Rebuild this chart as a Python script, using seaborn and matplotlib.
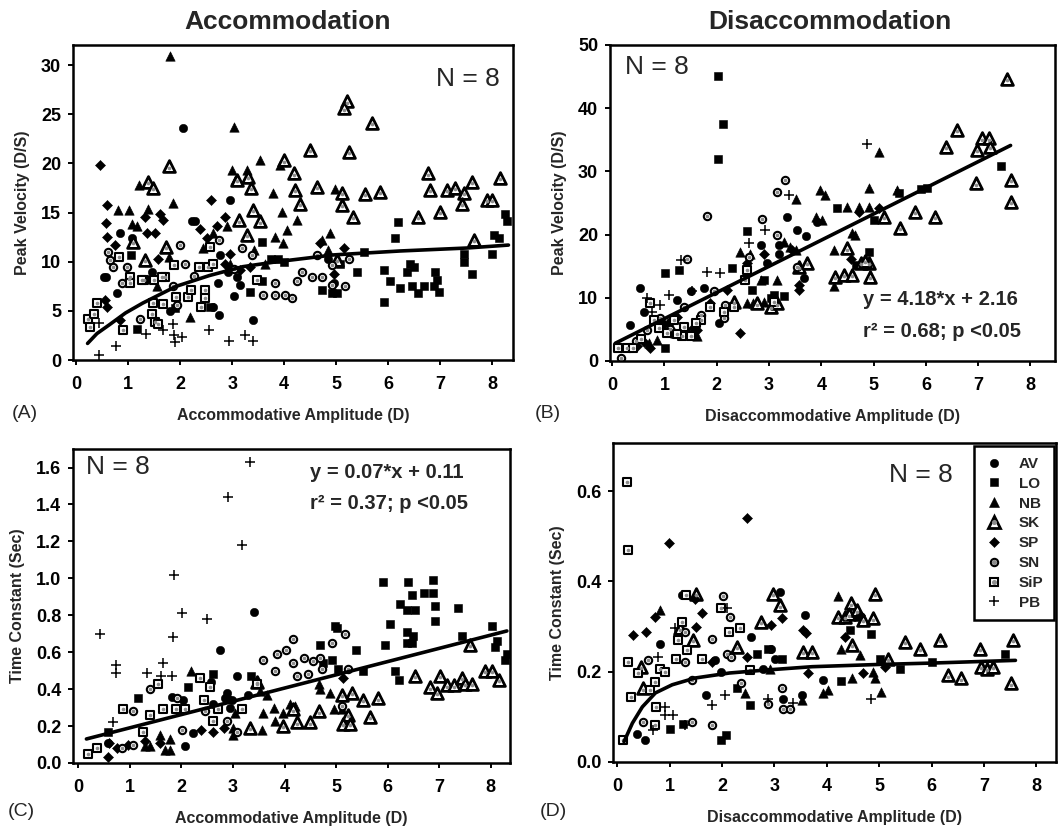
import matplotlib
matplotlib.use("Agg")
import matplotlib.pyplot as plt
from matplotlib.lines import Line2D
from matplotlib.legend_handler import HandlerTuple
import pandas as pd
import seaborn as sns

# %% data: (amplitude, value) pairs per subject

# Panel A: accommodation, peak velocity (D/S)
A_AV = [(2.06, 23.6), (2.96, 16.3), (2.22, 14.1), (0.85, 12.9), (0.54, 8.5), (1.46, 9.0), (2.77, 10.7),
        (2.72, 7.8), (3.09, 8.5), (3.03, 6.5), (2.74, 4.6), (3.40, 4.1), (1.81, 5.0), (2.64, 5.4),
        (3.15, 7.6), (1.07, 12.4), (0.78, 6.8), (4.85, 10.3), (4.95, 7.8), (0.58, 8.5), (2.28, 14.1),
        (2.92, 9.0)]
A_LO = [(3.57, 12.0), (3.57, 8.0), (3.35, 6.9), (3.89, 10.3), (4.72, 7.1), (4.92, 6.8), (5.01, 6.8),
        (5.08, 9.8), (5.40, 9.0), (5.53, 11.0), (5.91, 9.2), (6.04, 8.0), (5.91, 5.9), (6.13, 12.4),
        (6.19, 14.0), (6.23, 7.3), (6.36, 9.0), (6.42, 9.8), (6.49, 9.5), (6.45, 7.5), (6.58, 6.8),
        (6.68, 7.5), (6.87, 7.5), (6.90, 9.0), (6.94, 8.1), (6.97, 6.9), (7.45, 10.0), (7.45, 10.8),
        (7.61, 8.8), (7.99, 10.8), (8.03, 12.7), (8.12, 12.4), (8.25, 14.9), (8.28, 14.1), (1.17, 3.2),
        (1.90, 5.3), (2.58, 5.4), (1.06, 10.7), (3.75, 10.3), (4.00, 10.0)]
A_NB = [(1.81, 30.9), (3.03, 23.7), (3.54, 20.3), (3.00, 19.3), (3.28, 19.3), (3.06, 18.3), (3.91, 19.8),
        (3.79, 17.0), (3.95, 15.1), (4.06, 13.2), (4.24, 14.2), (3.83, 12.5), (3.97, 11.9), (4.98, 17.4),
        (4.88, 12.9), (4.85, 11.2), (4.72, 12.2), (1.87, 16.0), (1.39, 15.4), (0.81, 15.3), (1.01, 15.3),
        (1.20, 17.8), (1.17, 13.6), (1.78, 10.5), (2.43, 11.4), (2.19, 4.4), (2.64, 12.9), (2.90, 13.6),
        (3.41, 11.2), (3.63, 9.8), (1.55, 7.5), (2.96, 9.8), (1.08, 13.8)]
A_SK = [(1.39, 18.1), (1.47, 17.5), (1.78, 19.7), (1.72, 11.5), (1.10, 12.0), (1.33, 10.2), (3.09, 18.3),
        (3.14, 14.2), (3.31, 18.6), (3.36, 17.5), (3.28, 12.7), (3.40, 15.3), (3.54, 14.1), (3.99, 20.3),
        (4.18, 19.0), (4.21, 17.3), (4.31, 15.9), (4.50, 21.4), (4.63, 17.6), (5.21, 26.3), (5.14, 25.6),
        (5.24, 21.2), (5.11, 17.0), (5.11, 15.8), (5.33, 14.6), (5.69, 24.1), (5.56, 16.9), (5.85, 17.1),
        (6.58, 14.6), (6.77, 19.0), (6.81, 17.3), (7.00, 15.1), (7.13, 17.3), (7.29, 17.5), (7.45, 17.0),
        (7.42, 15.9), (7.61, 18.1), (7.64, 12.2), (7.90, 16.3), (7.99, 16.3), (8.15, 18.5), (5.01, 10.2)]
A_SP = [(0.46, 19.8), (0.59, 15.8), (0.58, 13.9), (0.59, 12.5), (0.75, 11.7), (1.33, 14.6), (1.36, 12.9),
        (1.52, 12.9), (1.62, 14.9), (1.67, 14.2), (1.58, 10.3), (2.38, 13.3), (2.60, 16.3), (2.51, 12.4),
        (2.71, 13.6), (2.87, 14.6), (2.96, 10.8), (3.15, 9.2), (3.35, 9.5), (4.69, 11.9), (5.14, 11.4),
        (4.95, 8.8), (0.56, 6.1), (0.59, 5.4), (0.85, 4.1), (2.87, 9.8)]
A_SN = [(0.62, 11.0), (0.65, 10.2), (0.71, 9.5), (0.97, 9.5), (1.01, 8.3), (0.88, 7.8), (2.00, 11.7),
        (2.10, 9.8), (2.26, 8.6), (1.87, 7.5), (2.74, 12.2), (3.03, 9.3), (3.19, 11.4), (3.38, 10.7),
        (3.60, 6.6), (3.83, 7.8), (3.83, 6.6), (4.02, 6.6), (4.15, 6.3), (4.24, 8.0), (4.34, 9.0),
        (4.53, 8.5), (4.63, 10.7), (4.72, 8.5), (4.92, 9.7), (4.92, 7.6), (5.17, 7.5), (5.24, 10.3),
        (1.23, 4.2), (1.94, 5.6)]
A_SiP = [(0.22, 4.2), (0.26, 3.4), (0.35, 4.7), (0.40, 5.8), (0.83, 10.5), (0.90, 3.1), (1.03, 8.5),
         (1.31, 8.1), (1.03, 7.8), (1.47, 5.8), (1.46, 4.7), (1.51, 3.9), (1.67, 5.7), (1.57, 3.7),
         (1.89, 9.7), (1.70, 8.5), (1.92, 6.4), (2.15, 6.4), (2.21, 7.1), (2.37, 9.5), (2.47, 7.1),
         (2.40, 5.4), (2.47, 6.3), (2.53, 9.5), (2.63, 9.8), (3.47, 8.1), (2.58, 11.5), (1.49, 8.1),
         (1.26, 8.1), (1.66, 8.5)]
A_PB = [(0.44, 3.8), (0.44, 0.5), (0.76, 1.4), (1.35, 2.7), (1.67, 3.1), (1.86, 3.7), (1.89, 2.6),
        (1.91, 1.8), (2.04, 2.4), (2.55, 3.1), (2.94, 1.9), (3.24, 2.6), (3.40, 1.9)]
A_FIT_X = [0.22, 0.40, 0.64, 0.95, 1.28, 1.92, 2.56, 3.20, 3.85, 4.95, 6.23, 7.51, 8.31]
A_FIT_Y = [1.7, 2.7, 3.6, 4.8, 5.8, 7.5, 8.6, 9.5, 10.0, 10.7, 11.1, 11.4, 11.7]

# Panel B: disaccommodation, peak velocity (D/S)
B_AV = [(1.75, 11.5), (0.54, 11.5), (3.35, 22.8), (3.54, 20.7), (3.19, 18.4), (2.84, 18.4), (3.19, 17.0),
        (3.70, 19.7), (3.67, 13.1), (2.04, 6.0), (1.24, 9.7), (1.50, 11.0), (0.35, 5.7), (0.61, 7.8),
        (3.92, 22.0), (2.96, 15.5), (0.90, 5.5), (1.10, 6.2), (1.40, 5.0)]
B_LO = [(2.03, 45.1), (2.12, 37.5), (2.03, 31.9), (7.43, 30.9), (6.02, 27.3), (5.90, 27.2), (5.48, 26.5),
        (5.00, 22.3), (4.91, 17.3), (4.30, 24.2), (4.67, 15.2), (2.57, 20.6), (2.29, 14.7), (1.27, 14.4),
        (1.02, 13.9), (2.68, 11.2), (2.90, 12.8), (3.03, 9.9), (3.28, 10.2), (1.02, 2.0), (3.10, 10.4)]
B_NB = [(5.10, 33.1), (3.51, 25.7), (3.98, 27.1), (4.08, 26.3), (3.89, 22.8), (4.02, 22.3), (4.91, 27.3),
        (5.45, 27.1), (4.49, 24.4), (4.72, 24.4), (4.91, 24.4), (4.59, 20.2), (4.65, 19.9), (4.24, 17.6),
        (4.24, 11.8), (3.28, 18.9), (3.41, 18.1), (3.51, 17.6), (2.45, 17.3), (2.64, 17.0), (2.84, 12.8),
        (3.15, 12.8), (2.58, 9.1), (1.47, 4.4), (1.63, 3.9), (0.86, 3.3), (2.70, 9.2), (2.90, 9.3),
        (0.70, 2.8), (1.20, 4.5), (1.55, 4.2)]
B_SK = [(7.55, 44.6), (6.60, 36.6), (6.38, 33.9), (6.98, 33.4), (7.07, 35.2), (7.20, 35.2), (7.23, 33.9),
        (6.95, 28.1), (7.62, 28.6), (7.62, 25.2), (5.80, 23.6), (6.18, 22.8), (5.51, 21.0), (5.19, 22.8),
        (4.49, 17.8), (4.27, 13.3), (4.43, 13.6), (4.59, 13.6), (4.75, 15.5), (4.91, 15.5), (4.94, 13.3),
        (3.73, 15.5), (3.57, 14.9), (2.77, 9.1), (3.03, 8.6), (3.15, 9.1), (2.33, 9.4), (4.83, 15.8)]
B_SP = [(2.45, 4.4), (0.48, 2.3), (0.73, 2.0), (3.57, 12.0), (3.57, 11.2), (3.44, 17.6), (4.56, 16.2),
        (4.72, 23.6), (5.10, 24.2), (2.90, 17.0), (2.58, 15.5), (2.20, 11.2), (1.63, 4.9), (1.24, 7.0),
        (1.88, 9.1), (1.00, 5.8), (1.30, 4.5), (1.55, 5.2), (0.60, 3.0)]
B_SN = [(3.31, 28.6), (3.15, 26.8), (1.82, 22.9), (2.87, 22.4), (3.15, 19.9), (1.43, 16.2), (2.61, 16.5),
        (1.94, 11.0), (2.14, 6.8), (0.67, 4.9), (0.92, 6.8), (2.16, 8.9), (1.37, 8.6), (0.16, 0.4),
        (3.54, 14.9), (0.45, 3.2), (1.10, 5.0), (1.70, 7.2)]
B_SiP = [(0.11, 2.1), (0.29, 2.1), (0.40, 2.1), (0.73, 9.1), (0.80, 6.5), (1.18, 6.5), (1.34, 3.9),
         (1.05, 4.4), (1.37, 5.4), (2.14, 7.8), (2.33, 8.6), (2.55, 12.8), (3.09, 9.4), (2.58, 14.4),
         (1.69, 6.5), (1.88, 8.6), (0.90, 5.2), (1.25, 4.2), (1.50, 4.0), (1.60, 6.0), (0.55, 3.5)]
B_PB = [(4.88, 34.3), (3.38, 26.3), (2.93, 20.7), (1.31, 16.0), (1.82, 14.1), (2.07, 13.9), (1.53, 11.0),
        (1.08, 10.4), (0.67, 9.9), (0.92, 8.9), (0.76, 7.8), (2.61, 18.6)]
B_FIT_X = [0.06, 7.62]
B_FIT_Y = [2.8, 34.1]

# Panel C: accommodation, time constant (s)
C_AV = [(3.41, 0.82), (2.74, 0.61), (3.07, 0.47), (1.81, 0.36), (2.04, 0.34), (2.57, 0.44), (2.22, 0.16),
        (2.07, 0.09), (2.88, 0.38), (2.62, 0.32), (0.58, 0.11), (2.98, 0.34), (3.30, 0.37), (2.85, 0.35),
        (2.95, 0.30)]
C_LO = [(5.91, 0.98), (6.40, 0.98), (6.88, 0.99), (6.24, 0.86), (6.47, 0.91), (6.70, 0.92), (6.87, 0.92),
        (6.38, 0.83), (6.53, 0.83), (6.92, 0.85), (7.37, 0.84), (6.92, 0.77), (6.05, 0.75), (5.95, 0.64),
        (6.37, 0.71), (6.50, 0.69), (6.38, 0.65), (6.48, 0.65), (6.15, 0.50), (6.21, 0.45), (7.44, 0.69),
        (8.03, 0.74), (8.08, 0.63), (8.12, 0.66), (8.31, 0.59), (8.28, 0.56), (4.98, 0.74), (5.01, 0.73),
        (4.69, 0.64), (4.75, 0.54), (5.39, 0.61), (4.92, 0.56), (5.04, 0.51), (5.52, 0.50), (3.36, 0.47),
        (2.62, 0.48), (2.12, 0.41), (1.16, 0.35), (0.58, 0.17)]
C_NB = [(3.53, 0.39), (3.66, 0.37), (3.79, 0.30), (3.82, 0.23), (3.98, 0.27), (4.11, 0.32), (4.20, 0.31),
        (3.59, 0.27), (3.56, 0.18), (3.01, 0.15), (3.01, 0.19), (4.69, 0.40), (4.88, 0.38), (4.95, 0.29),
        (4.66, 0.43), (1.78, 0.07), (1.78, 0.13), (1.39, 0.09), (1.58, 0.15), (3.04, 0.27), (5.11, 0.29),
        (2.18, 0.50), (1.29, 0.09), (1.68, 0.07)]
C_SK = [(6.53, 0.47), (6.82, 0.41), (6.95, 0.38), (7.02, 0.47), (7.15, 0.42), (7.28, 0.42), (7.44, 0.46),
        (7.50, 0.43), (7.63, 0.43), (7.60, 0.64), (7.89, 0.50), (8.02, 0.50), (8.15, 0.45), (5.53, 0.34),
        (5.82, 0.35), (5.66, 0.25), (5.30, 0.38), (5.11, 0.37), (5.24, 0.26), (5.14, 0.21), (5.27, 0.21),
        (4.50, 0.22), (4.66, 0.28), (4.24, 0.22), (4.17, 0.29), (3.98, 0.20), (3.33, 0.19), (3.46, 0.44)]
C_SP = [(2.39, 0.18), (2.62, 0.17), (2.83, 0.19), (2.88, 0.36), (5.14, 0.46), (0.59, 0.11), (0.57, 0.03),
        (0.97, 0.10), (1.59, 0.11), (1.30, 0.12), (0.75, 0.08)]
C_SN = [(4.17, 0.67), (4.03, 0.61), (3.85, 0.59), (3.59, 0.56), (3.82, 0.50), (4.37, 0.57), (5.17, 0.70),
        (4.92, 0.65), (4.56, 0.55), (4.69, 0.57), (4.17, 0.54), (4.24, 0.47), (4.46, 0.48), (4.72, 0.51),
        (5.24, 0.51), (5.11, 0.31), (1.39, 0.40), (2.01, 0.18), (1.07, 0.28), (1.91, 0.35), (2.46, 0.28),
        (3.07, 0.17), (2.88, 0.23), (1.07, 0.10), (0.85, 0.08)]
C_SiP = [(1.55, 0.43), (0.87, 0.29), (1.65, 0.29), (1.25, 0.17), (1.39, 0.26), (1.90, 0.29), (2.07, 0.29),
         (2.36, 0.46), (2.56, 0.41), (3.46, 0.43), (0.19, 0.05), (0.36, 0.08), (2.43, 0.34), (2.72, 0.29),
         (2.62, 0.23), (3.17, 0.29)]
C_PB = [(3.34, 1.63), (2.90, 1.44), (3.18, 1.18), (1.86, 1.02), (2.01, 0.81), (2.50, 0.78), (0.42, 0.70),
        (1.84, 0.68), (0.74, 0.53), (0.74, 0.49), (1.33, 0.49), (1.64, 0.54), (1.60, 0.47), (1.82, 0.47),
        (0.68, 0.22)]
C_FIT_X = [0.16, 8.31]
C_FIT_Y = [0.13, 0.715]

# Panel D: disaccommodation, time constant (s)
D_AV = [(3.10, 0.377), (3.58, 0.325), (1.23, 0.370), (0.81, 0.262), (0.53, 0.048), (0.37, 0.063),
        (1.70, 0.148), (1.99, 0.200), (2.56, 0.277), (2.94, 0.251), (3.17, 0.140), (3.52, 0.148),
        (3.93, 0.181), (2.79, 0.207), (1.86, 0.225), (3.01, 0.229)]
D_LO = [(7.40, 0.240), (6.00, 0.222), (5.39, 0.207), (5.01, 0.227), (4.85, 0.283), (4.44, 0.292),
        (4.28, 0.180), (2.53, 0.126), (1.99, 0.048), (2.08, 0.059), (1.00, 0.074), (1.26, 0.085),
        (2.66, 0.240), (2.88, 0.251), (2.28, 0.163), (3.14, 0.229), (4.60, 0.322)]
D_NB = [(0.81, 0.336), (4.22, 0.367), (4.28, 0.251), (4.49, 0.185), (4.88, 0.200), (4.92, 0.185),
        (5.04, 0.155), (3.93, 0.152), (4.03, 0.159), (3.52, 0.137), (4.63, 0.237), (2.44, 0.152),
        (2.91, 0.205)]
D_SK = [(4.92, 0.373), (4.47, 0.351), (4.22, 0.322), (4.35, 0.322), (4.43, 0.327), (4.57, 0.336),
        (4.69, 0.314), (4.88, 0.318), (4.49, 0.259), (1.51, 0.373), (2.28, 0.255), (2.98, 0.373),
        (3.10, 0.347), (2.75, 0.310), (3.55, 0.244), (3.71, 0.244), (5.17, 0.229), (5.49, 0.266),
        (5.78, 0.251), (6.16, 0.270), (6.31, 0.192), (6.57, 0.185), (6.92, 0.251), (6.95, 0.211),
        (7.05, 0.207), (7.17, 0.211), (7.55, 0.270), (7.52, 0.174), (0.46, 0.211), (0.50, 0.163),
        (1.45, 0.270), (1.20, 0.296)]
D_SP = [(0.99, 0.486), (2.47, 0.540), (0.31, 0.281), (0.55, 0.288), (0.72, 0.321), (1.61, 0.331),
        (1.51, 0.299), (1.48, 0.362), (4.34, 0.277), (4.63, 0.325), (2.94, 0.303), (3.14, 0.318),
        (2.47, 0.233), (3.55, 0.292), (3.61, 0.285), (4.69, 0.196), (5.11, 0.211), (3.64, 0.196),
        (1.80, 0.222)]
D_SN = [(2.01, 0.367), (2.15, 0.321), (1.80, 0.273), (2.09, 0.240), (2.18, 0.233), (1.42, 0.089),
        (1.80, 0.081), (1.29, 0.222), (1.42, 0.181), (2.88, 0.129), (3.17, 0.118), (3.30, 0.118),
        (3.14, 0.163), (0.59, 0.225), (0.50, 0.089), (1.29, 0.288), (2.37, 0.174)]
D_SiP = [(0.19, 0.621), (0.21, 0.469), (0.21, 0.222), (0.40, 0.196), (0.27, 0.144), (0.62, 0.159),
         (0.72, 0.177), (0.81, 0.207), (0.91, 0.200), (1.32, 0.370), (1.23, 0.310), (1.16, 0.270),
         (1.13, 0.229), (1.34, 0.248), (1.61, 0.229), (1.99, 0.340), (2.13, 0.288), (2.34, 0.296),
         (2.53, 0.203), (0.75, 0.122), (0.72, 0.081), (0.11, 0.048)]
D_PB = [(2.09, 0.340), (1.10, 0.296), (0.78, 0.233), (0.91, 0.122), (0.91, 0.103), (1.07, 0.103),
        (1.29, 0.081), (0.69, 0.070), (1.80, 0.126), (2.05, 0.148), (2.88, 0.140), (3.36, 0.131),
        (4.85, 0.140)]
D_FIT_X = [0.13, 0.29, 0.48, 0.73, 1.05, 1.49, 2.14, 2.77, 3.72, 5.0, 6.0, 7.6]
D_FIT_Y = [0.045, 0.086, 0.122, 0.153, 0.171, 0.186, 0.197, 0.203, 0.211, 0.216, 0.219, 0.225]

SUBJECTS = ["AV", "LO", "NB", "SK", "SP", "SN", "SiP", "PB"]

# %% styling
sns.set_theme(style="ticks")
plt.rcParams["font.family"] = ["Liberation Sans", "DejaVu Sans"]

MARKERS = {
    "AV": dict(marker="o", s=36, color="black", edgecolor="black", linewidth=0.4),
    "LO": dict(marker="s", s=32, color="black", edgecolor="black", linewidth=0.4),
    "NB": dict(marker="^", s=46, color="black", edgecolor="black", linewidth=0.4),
    "SK": dict(marker="^", s=72, color="white", edgecolor="black", linewidth=2.0),
    "SP": dict(marker="D", s=26, color="black", edgecolor="black", linewidth=0.4),
    "SN": dict(marker="o", s=28, color="white", edgecolor="black", linewidth=1.5),
    "SiP": dict(marker="s", s=30, color="white", edgecolor="black", linewidth=1.5),
    "PB": dict(marker="+", s=42, color="black", linewidth=1.1),
}
DOTTED = ["SK", "SN", "SiP"]
DOT_COLOR = "#8c8c8c"


def to_frame(groups):
    rows = []
    for subj, pts in zip(SUBJECTS, groups):
        for x, y in pts:
            rows.append({"subject": subj, "x": x, "y": y})
    return pd.DataFrame(rows)


def draw(ax, df, fit_x, fit_y, xlim, ylim, yticks, yfmt):
    for subj in SUBJECTS:
        sub = df[df["subject"] == subj]
        sns.scatterplot(data=sub, x="x", y="y", ax=ax, legend=False, zorder=2, **MARKERS[subj])
        if subj in DOTTED:
            # small grey centre dot inside the open markers
            cy = sub.copy()
            if subj == "SK":
                cy["y"] = cy["y"] - (ylim[1] - ylim[0]) * 0.004
            sns.scatterplot(data=cy, x="x", y="y", ax=ax, legend=False, marker="o", s=7,
                            color=DOT_COLOR, edgecolor=DOT_COLOR, linewidth=0, zorder=2.1)
    sns.lineplot(x=fit_x, y=fit_y, ax=ax, color="black", linewidth=2.6, sort=False,
                 estimator=None, zorder=3)
    ax.set_xlim(*xlim)
    ax.set_ylim(*ylim)
    ax.set_xticks(range(0, 9))
    ax.set_yticks(yticks)
    ax.set_yticklabels([yfmt.format(v) for v in yticks])
    for sp in ax.spines.values():
        sp.set_visible(True)
        sp.set_linewidth(1.8)
        sp.set_color("black")
    ax.tick_params(direction="out", length=3.5, width=1.4, labelsize=13, colors="black")
    ax.tick_params(axis="x", pad=8)
    ax.tick_params(axis="y", pad=5)
    for lab in ax.get_xticklabels() + ax.get_yticklabels():
        lab.set_fontweight("bold")
    ax.set_facecolor("white")


fig = plt.figure(figsize=(10.58, 8.26), dpi=100)
axA = fig.add_axes([0.069, 0.564, 0.416, 0.381])
axB = fig.add_axes([0.5766, 0.563, 0.4206, 0.3826])
axC = fig.add_axes([0.069, 0.0763, 0.413, 0.380])
axD = fig.add_axes([0.5794, 0.0775, 0.419, 0.386])

dfA = to_frame([A_AV, A_LO, A_NB, A_SK, A_SP, A_SN, A_SiP, A_PB])
dfB = to_frame([B_AV, B_LO, B_NB, B_SK, B_SP, B_SN, B_SiP, B_PB])
dfC = to_frame([C_AV, C_LO, C_NB, C_SK, C_SP, C_SN, C_SiP, C_PB])
dfD = to_frame([D_AV, D_LO, D_NB, D_SK, D_SP, D_SN, D_SiP, D_PB])

draw(axA, dfA, A_FIT_X, A_FIT_Y, (-0.06, 8.40), (0, 32), [0, 5, 10, 15, 20, 25, 30], "{:g}")
draw(axB, dfB, B_FIT_X, B_FIT_Y, (-0.04, 8.47), (0, 50), [0, 10, 20, 30, 40, 50], "{:g}")
draw(axC, dfC, C_FIT_X, C_FIT_Y, (-0.10, 8.37), (0, 1.70),
     [0.0, 0.2, 0.4, 0.6, 0.8, 1.0, 1.2, 1.4, 1.6], "{:.1f}")
draw(axD, dfD, D_FIT_X, D_FIT_Y, (-0.08, 8.38), (0, 0.706), [0.0, 0.2, 0.4, 0.6], "{:.1f}")

lab_kw = dict(fontsize=11.5, fontweight="bold")
axA.set_xlabel("Accommodative Amplitude (D)", labelpad=11, **lab_kw)
axB.set_xlabel("Disaccommodative Amplitude (D)", labelpad=11, **lab_kw)
axC.set_xlabel("Accommodative Amplitude (D)", labelpad=11, **lab_kw)
axD.set_xlabel("Disaccommodative Amplitude (D)", labelpad=11, **lab_kw)
axA.set_ylabel("Peak Velocity (D/S)", labelpad=8, **lab_kw)
axB.set_ylabel("Peak Velocity (D/S)", labelpad=8, **lab_kw)
axC.set_ylabel("Time Constant (Sec)", labelpad=8, **lab_kw)
axD.set_ylabel("Time Constant (Sec)", labelpad=8, **lab_kw)

# annotations
n_kw = dict(fontsize=19, va="center")
axA.text(0.97, 0.892, "N = 8", transform=axA.transAxes, ha="right", **n_kw)
axB.text(0.034, 0.93, "N = 8", transform=axB.transAxes, ha="left", **n_kw)
axC.text(0.03, 0.943, "N = 8", transform=axC.transAxes, ha="left", **n_kw)
axD.text(0.623, 0.90, "N = 8", transform=axD.transAxes, ha="left", **n_kw)

eq_kw = dict(fontsize=14.5, fontweight="bold", va="center", ha="left")
axB.text(0.569, 0.193, "y = 4.18*x + 2.16", transform=axB.transAxes, **eq_kw)
axB.text(0.569, 0.092, "r\u00b2 = 0.68; p <0.05", transform=axB.transAxes, **eq_kw)
axC.text(0.542, 0.924, "y = 0.07*x + 0.11", transform=axC.transAxes, **eq_kw)
axC.text(0.542, 0.828, "r\u00b2 = 0.37; p <0.05", transform=axC.transAxes, **eq_kw)

fig.text(288 / 1058, 1 - 22 / 826, "Accommodation", fontsize=19, fontweight="bold",
         ha="center", va="center")
fig.text(830 / 1058, 1 - 22 / 826, "Disaccommodation", fontsize=19, fontweight="bold",
         ha="center", va="center")
for label, px, py in [("(A)", 12, 413), ("(B)", 535, 413), ("(C)", 8, 812), ("(D)", 540, 812)]:
    fig.text(px / 1058, 1 - py / 826, label, fontsize=14, ha="left", va="center")

# legend in panel D
handles = []
for subj in SUBJECTS:
    st = MARKERS[subj]
    ms = st["s"] ** 0.5
    if st["marker"] == "+":
        h = Line2D([], [], linestyle="none", marker="+", markersize=ms, color="black",
                   markeredgewidth=st["linewidth"])
    else:
        h = Line2D([], [], linestyle="none", marker=st["marker"], markersize=ms,
                   markerfacecolor=st["color"], markeredgecolor="black",
                   markeredgewidth=st["linewidth"])
    if subj in DOTTED:
        dot = Line2D([], [], linestyle="none", marker="o", markersize=2.6,
                     markerfacecolor=DOT_COLOR, markeredgecolor=DOT_COLOR)
        h = (h, dot)
    handles.append(h)
leg = axD.legend(handles, SUBJECTS, loc="upper left", bbox_to_anchor=(0.815, 0.99),
                 handler_map={tuple: HandlerTuple(ndivide=1, pad=0)},
                 frameon=True, fancybox=False, framealpha=1, edgecolor="black",
                 prop={"weight": "bold", "size": 11}, labelspacing=0.38, handlelength=1.2,
                 handletextpad=1.0, borderpad=0.7, borderaxespad=0)
leg.get_frame().set_linewidth(1.8)

fig.savefig("out.png", dpi=100, facecolor="white")
